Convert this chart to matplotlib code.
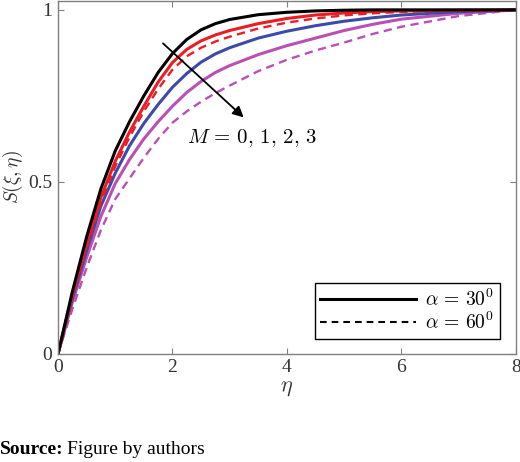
import numpy as np
import matplotlib
matplotlib.use('Agg')
import matplotlib.pyplot as plt

plt.rcParams['mathtext.fontset'] = 'cm'
plt.rcParams['font.family'] = 'Liberation Serif'

# eta grid and S values
eta = [0, 0.25, 0.5, 0.75, 1.0, 1.25, 1.5, 1.75, 2.0, 2.25, 2.5, 2.75, 3.0,
       3.5, 4.0, 4.5, 5.0, 5.5, 6.0, 7.0, 8.0]

s_m0_a30 = [0, 0.18, 0.34, 0.48, 0.59, 0.675, 0.75, 0.818, 0.873, 0.914, 0.942, 0.960, 0.972,
            0.986, 0.993, 0.997, 0.999, 1.0, 1.0, 1.0, 1.0]
s_m1_a30 = [0, 0.17, 0.32, 0.455, 0.56, 0.645, 0.72, 0.79, 0.847, 0.885, 0.91, 0.927, 0.94,
            0.96, 0.975, 0.985, 0.991, 0.995, 0.997, 0.999, 1.0]
s_m1_a60 = [0, 0.165, 0.31, 0.44, 0.545, 0.63, 0.705, 0.77, 0.826, 0.865, 0.89, 0.908, 0.922,
            0.946, 0.963, 0.975, 0.984, 0.99, 0.994, 0.998, 1.0]
s_m2_a30 = [0, 0.16, 0.30, 0.43, 0.525, 0.605, 0.67, 0.725, 0.775, 0.815, 0.848, 0.872, 0.89,
            0.918, 0.938, 0.954, 0.967, 0.977, 0.985, 0.995, 1.0]
s_m3_a30 = [0, 0.15, 0.28, 0.40, 0.495, 0.565, 0.625, 0.675, 0.72, 0.76, 0.792, 0.818, 0.838,
            0.87, 0.896, 0.918, 0.94, 0.958, 0.973, 0.99, 1.0]
s_m3_a60 = [0, 0.13, 0.25, 0.36, 0.45, 0.51, 0.57, 0.625, 0.672, 0.705, 0.733, 0.758, 0.78,
            0.822, 0.855, 0.882, 0.905, 0.93, 0.951, 0.982, 1.0]

red = '#ec1c24'
blue = '#3b4ba8'
mag = '#bb4fb4'

fig = plt.figure(figsize=(5.2, 4.62), dpi=100)
ax = fig.add_axes([0.1115, 0.234, 0.8805, 0.764])

lw = 2.2
dash = (0, (3.5, 2.3))
ax.plot(eta, s_m3_a60, color=mag, lw=1.7, linestyle=dash)
ax.plot(eta, s_m3_a30, color=mag, lw=lw)
ax.plot(eta, s_m2_a30, color=blue, lw=lw)
ax.plot(eta, s_m1_a60, color=red, lw=1.7, linestyle=dash)
ax.plot(eta, s_m1_a30, color=red, lw=lw)
ax.plot(eta, s_m0_a30, color='k', lw=lw)

# legend entries
ax.plot([], [], color='k', lw=lw, label=r'$\alpha\,=\,30^0$')
ax.plot([], [], color='k', lw=1.5, linestyle=(0, (3.2, 2.4)), label=r'$\alpha\,=\,60^0$')
handles, labels = ax.get_legend_handles_labels()
leg = ax.legend(handles, labels, loc='lower right', bbox_to_anchor=(0.965, 0.042),
                borderaxespad=0, fontsize=14, handlelength=4.9, fancybox=False,
                framealpha=1, edgecolor='k', borderpad=0.3, labelspacing=0.1,
                handletextpad=0.5)
leg.get_frame().set_linewidth(1.0)

ax.annotate('', xy=(3.28, 0.682), xytext=(1.8, 0.908),
            arrowprops=dict(arrowstyle='-|>', color='k', lw=1.3, mutation_scale=16))
ax.text(3.39, 0.628, r'$M\,=\,0,\,1,\,2,\,3$', fontsize=15, ha='center', va='center')

ax.set_xlim(0, 8)
ax.set_ylim(0, 1.026)
ax.set_xticks([0, 2, 4, 6, 8])
ax.set_yticks([0, 0.5, 1])
ax.set_yticklabels(['0', '0.5', '1'])
ax.tick_params(direction='in', length=4, width=0.8, color='#808080',
               labelsize=14, labelcolor='#333333', top=True, right=True, pad=4)
for sp in ax.spines.values():
    sp.set_color('#808080')
    sp.set_linewidth(1.0)

ax.set_xlabel(r'$\eta$', fontsize=16, color='#333333', labelpad=2)
ax.set_ylabel(r'$S(\xi,\eta)$', fontsize=14, color='#333333')
ax.yaxis.set_label_coords(-0.072, 0.5)

fig.text(0.0, 0.026, 'Source:', fontsize=14, fontweight='bold', ha='left', va='center')
fig.text(0.128, 0.026, 'Figure by authors', fontsize=14, ha='left', va='center')

fig.savefig('out.png', dpi=100)
